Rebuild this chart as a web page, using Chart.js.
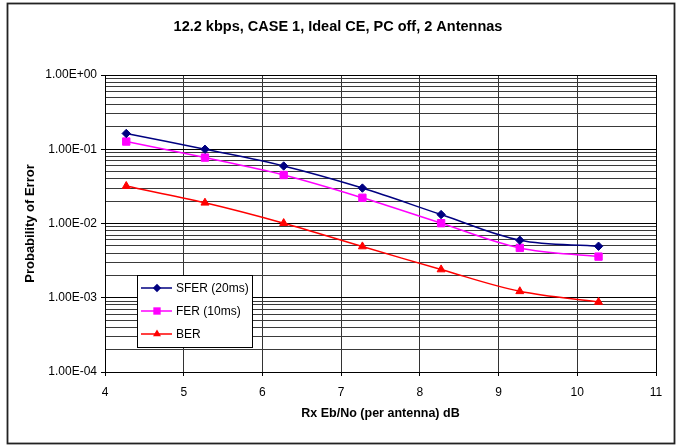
<!DOCTYPE html>
<html>
<head>
<meta charset="utf-8">
<script src="https://cdn.jsdelivr.net/npm/chart.js@4/dist/chart.umd.min.js"></script>
<style>
  html, body { margin: 0; padding: 0; background: #fff; }
  #wrap { position: relative; width: 680px; height: 446px; }
</style>
</head>
<body>
<div id="wrap"><canvas id="c" width="680" height="446"></canvas></div>
<script>
// Rx Eb/No (per antenna) in dB
const ebno = [4.27, 5.27, 6.27, 7.27, 8.27, 9.27, 10.27];
// Error probabilities per measurement
const sfer = [0.163, 0.100, 0.0595, 0.0300, 0.0132, 0.00595, 0.00494];
const fer  = [0.127, 0.0772, 0.0450, 0.0222, 0.0101, 0.00469, 0.00358];
const ber  = [0.0319, 0.0190, 0.0101, 0.0049, 0.0024, 0.00122, 0.000875];

const seriesNames = ['SFER (20ms)', 'FER (10ms)', 'BER'];
const chartTitle = '12.2 kbps, CASE 1, Ideal CE, PC off, 2 Antennas';
const xTitle = 'Rx Eb/No (per antenna) dB';
const yTitle = 'Probability of Error';

// Log axis: decades plus the 2..9 sub-divisions
const yDecades = [1e-4, 1e-3, 1e-2, 1e-1, 1];
const yMinorSteps = [2, 3, 4, 5, 6, 7, 8, 9];

const FONT = '"Liberation Sans", Arial, sans-serif';
Chart.defaults.font.family = FONT;
Chart.defaults.color = '#000';

function isDecade(v) {
  const e = Math.log10(v);
  return Math.abs(e - Math.round(e)) < 1e-6;
}
function sci(v) {
  const e = Math.round(Math.log10(v));
  const m = v / Math.pow(10, e);
  const sign = e < 0 ? '-' : '+';
  return m.toFixed(2) + 'E' + sign + String(Math.abs(e)).padStart(2, '0');
}
function yTickValues() {
  const out = [];
  for (let i = 0; i < yDecades.length; i++) {
    out.push(yDecades[i]);
    if (i < yDecades.length - 1) {
      yMinorSteps.forEach(s => out.push(+(yDecades[i] * s).toPrecision(6)));
    }
  }
  return out;
}

function toPoints(ys) {
  return ys.map((y, i) => ({ x: ebno[i], y: y }));
}

const styles = [
  { color: '#000080', pointStyle: 'rectRot', radius: 4.2 },
  { color: '#ff00ff', pointStyle: 'rect', radius: 5.2 },
  { color: '#ff0000', pointStyle: 'triangle', radius: 4.6 }
];

const seriesData = [sfer, fer, ber];
const datasets = seriesData.map((d, i) => ({
  label: seriesNames[i],
  data: toPoints(d),
  borderColor: styles[i].color,
  backgroundColor: styles[i].color,
  pointBackgroundColor: styles[i].color,
  pointBorderColor: styles[i].color,
  pointStyle: styles[i].pointStyle,
  pointRadius: styles[i].radius,
  pointBorderWidth: 1,
  borderWidth: 1.5,
  tension: 0.35,
  fill: false
}));

// Frame around the whole figure
const framePlugin = {
  id: 'frame',
  beforeDraw(chart) {
    const ctx = chart.ctx;
    ctx.save();
    ctx.fillStyle = '#fff';
    ctx.fillRect(0, 0, chart.width, chart.height);
    ctx.strokeStyle = '#222';
    ctx.lineWidth = 1.8;
    ctx.strokeRect(7.5, 3.5, 667, 440);
    ctx.restore();
  },
  afterDatasetsDraw(chart) {
    const a = chart.chartArea;
    const ctx = chart.ctx;
    ctx.save();
    ctx.strokeStyle = '#000';
    ctx.lineWidth = 1;
    ctx.strokeRect(Math.round(a.left) + 0.5, Math.round(a.top) + 0.5,
                   Math.round(a.right - a.left), Math.round(a.bottom - a.top));
    ctx.restore();
  }
};

// Boxed legend sitting inside the plot area
function drawMarker(ctx, style, x, y, r) {
  ctx.beginPath();
  if (style === 'rectRot') {
    ctx.moveTo(x, y - r); ctx.lineTo(x + r, y); ctx.lineTo(x, y + r); ctx.lineTo(x - r, y);
  } else if (style === 'rect') {
    const s = r * Math.SQRT1_2;
    ctx.rect(x - s, y - s, 2 * s, 2 * s);
  } else {
    const h = r;
    ctx.moveTo(x, y - h);
    ctx.lineTo(x + h * Math.sin(Math.PI * 2 / 3), y - h * Math.cos(Math.PI * 2 / 3));
    ctx.lineTo(x - h * Math.sin(Math.PI * 2 / 3), y - h * Math.cos(Math.PI * 2 / 3));
  }
  ctx.closePath();
  ctx.fill();
}
const legendBox = {
  id: 'legendBox',
  afterDraw(chart) {
    const ctx = chart.ctx;
    const x0 = 137, y0 = 275, w = 115, h = 72;
    ctx.save();
    ctx.fillStyle = '#fff';
    ctx.fillRect(x0, y0, w, h);
    ctx.strokeStyle = '#000';
    ctx.lineWidth = 1;
    ctx.strokeRect(x0 + 0.5, y0 + 0.5, w, h);
    chart.data.datasets.forEach((ds, i) => {
      const y = 288 + i * 23;
      ctx.strokeStyle = ds.borderColor;
      ctx.lineWidth = 1.5;
      ctx.beginPath();
      ctx.moveTo(141, y); ctx.lineTo(172, y);
      ctx.stroke();
      ctx.fillStyle = ds.borderColor;
      drawMarker(ctx, ds.pointStyle, 157, y, ds.pointRadius);
      ctx.fillStyle = '#000';
      ctx.font = '12px ' + FONT;
      ctx.textBaseline = 'middle';
      ctx.textAlign = 'left';
      ctx.fillText(ds.label, 176, y + 1);
    });
    ctx.restore();
  }
};

new Chart(document.getElementById('c'), {
  type: 'line',
  data: { datasets: datasets },
  plugins: [framePlugin, legendBox],
  options: {
    responsive: false,
    animation: false,
    layout: { padding: { left: 20, right: 24, top: 0, bottom: 10 } },
    plugins: {
      legend: { display: false },
      tooltip: { enabled: false },
      title: {
        display: true,
        text: chartTitle,
        color: '#000',
        font: { size: 14.5, weight: 'bold' },
        padding: { top: 18.3, bottom: 39.3 }
      }
    },
    scales: {
      x: {
        type: 'linear',
        min: 4,
        max: 11,
        afterFit(s) { s.height = 64; },
        ticks: { stepSize: 1, padding: 9, color: '#000', font: { size: 12 } },
        grid: { color: '#333', lineWidth: 1, tickLength: 4, tickColor: '#000' },
        border: { color: '#000', width: 1 },
        title: {
          display: true,
          text: xTitle,
          color: '#000',
          font: { size: 12.5, weight: 'bold' },
          padding: { top: 0, bottom: 14.5 }
        }
      },
      y: {
        type: 'logarithmic',
        min: 1e-4,
        max: 1,
        afterFit(s) { s.width = 85; },
        afterBuildTicks(s) { s.ticks = yTickValues().map(v => ({ value: v })); },
        ticks: {
          autoSkip: false,
          padding: 4,
          color: '#000',
          font: { size: 12 },
          callback: (v) => isDecade(v) ? sci(v) : ''
        },
        grid: {
          lineWidth: 1,
          tickLength: 4,
          color: (c) => (c.tick && isDecade(c.tick.value)) ? '#000' : '#3a3a3a',
          tickColor: (c) => (c.tick && isDecade(c.tick.value)) ? '#000' : 'rgba(0,0,0,0)'
        },
        border: { color: '#000', width: 1 },
        title: {
          display: true,
          text: yTitle,
          color: '#000',
          font: { size: 13, weight: 'bold' },
          padding: { top: 3, bottom: 0 }
        }
      }
    }
  }
});
</script>
</body>
</html>
